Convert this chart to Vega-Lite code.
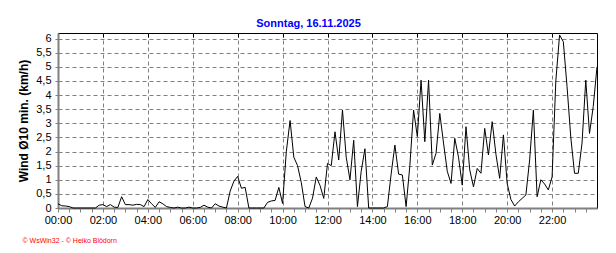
{
  "$schema": "https://vega.github.io/schema/vega-lite/v6.json",
  "width": 539,
  "height": 175,
  "autosize": "none",
  "padding": {"left": 58, "top": 33, "right": 19, "bottom": 45},
  "background": "white",
  "config": {"view": {"stroke": "black", "strokeWidth": 1}, "font": "Liberation Sans"},
  "title": {"text": "Sonntag, 16.11.2025", "color": "#0000ff", "fontSize": 11, "fontWeight": "bold", "anchor": "middle", "dx": -19, "offset": 4},
  "data": {"values": [
    {"min": 0, "v": 0.15}, {"min": 10, "v": 0.08}, {"min": 20, "v": 0.07}, {"min": 30, "v": 0.05}, {"min": 40, "v": 0}, {"min": 50, "v": 0},
    {"min": 60, "v": 0}, {"min": 70, "v": 0}, {"min": 80, "v": 0}, {"min": 90, "v": 0}, {"min": 100, "v": 0}, {"min": 110, "v": 0.1},
    {"min": 120, "v": 0.12}, {"min": 130, "v": 0.05}, {"min": 140, "v": 0.12}, {"min": 150, "v": 0.03}, {"min": 160, "v": 0.02}, {"min": 170, "v": 0.4},
    {"min": 180, "v": 0.12}, {"min": 190, "v": 0.12}, {"min": 200, "v": 0.1}, {"min": 210, "v": 0.13}, {"min": 220, "v": 0.12}, {"min": 230, "v": 0.05},
    {"min": 240, "v": 0.3}, {"min": 250, "v": 0.15}, {"min": 260, "v": 0.02}, {"min": 270, "v": 0.22}, {"min": 280, "v": 0.15}, {"min": 290, "v": 0.05},
    {"min": 300, "v": 0.02}, {"min": 310, "v": 0}, {"min": 320, "v": 0.03}, {"min": 330, "v": 0}, {"min": 340, "v": 0}, {"min": 350, "v": 0.03},
    {"min": 360, "v": 0}, {"min": 370, "v": 0}, {"min": 380, "v": 0.02}, {"min": 390, "v": 0.1}, {"min": 400, "v": 0.03}, {"min": 410, "v": 0},
    {"min": 420, "v": 0.15}, {"min": 430, "v": 0.07}, {"min": 440, "v": 0.03}, {"min": 450, "v": 0}, {"min": 460, "v": 0.6}, {"min": 470, "v": 0.95},
    {"min": 480, "v": 1.12}, {"min": 490, "v": 0.7}, {"min": 500, "v": 0.73}, {"min": 510, "v": 0}, {"min": 520, "v": 0}, {"min": 530, "v": 0},
    {"min": 540, "v": 0}, {"min": 550, "v": 0}, {"min": 560, "v": 0.2}, {"min": 570, "v": 0.25}, {"min": 580, "v": 0.27}, {"min": 590, "v": 0.73},
    {"min": 600, "v": 0.16}, {"min": 610, "v": 2.0}, {"min": 620, "v": 3.1}, {"min": 630, "v": 1.8}, {"min": 640, "v": 1.5}, {"min": 650, "v": 0.9},
    {"min": 660, "v": 0.05}, {"min": 670, "v": 0}, {"min": 680, "v": 0.35}, {"min": 690, "v": 1.1}, {"min": 700, "v": 0.8}, {"min": 710, "v": 0.34},
    {"min": 720, "v": 1.58}, {"min": 730, "v": 1.5}, {"min": 740, "v": 2.7}, {"min": 750, "v": 1.7}, {"min": 760, "v": 3.47}, {"min": 770, "v": 1.8},
    {"min": 780, "v": 1.0}, {"min": 790, "v": 2.4}, {"min": 800, "v": 0.05}, {"min": 810, "v": 1.3}, {"min": 820, "v": 2.1}, {"min": 830, "v": 0},
    {"min": 840, "v": 0}, {"min": 850, "v": 0}, {"min": 860, "v": 0}, {"min": 870, "v": 0}, {"min": 880, "v": 0.05}, {"min": 890, "v": 1.2},
    {"min": 900, "v": 2.23}, {"min": 910, "v": 1.2}, {"min": 920, "v": 1.17}, {"min": 930, "v": 0.05}, {"min": 940, "v": 1.5}, {"min": 950, "v": 3.47},
    {"min": 960, "v": 2.53}, {"min": 970, "v": 4.53}, {"min": 980, "v": 2.35}, {"min": 990, "v": 4.53}, {"min": 1000, "v": 1.52}, {"min": 1010, "v": 1.94},
    {"min": 1020, "v": 3.35}, {"min": 1030, "v": 2.3}, {"min": 1040, "v": 1.3}, {"min": 1050, "v": 0.87}, {"min": 1060, "v": 2.47}, {"min": 1070, "v": 1.8},
    {"min": 1080, "v": 0.81}, {"min": 1090, "v": 2.88}, {"min": 1100, "v": 1.35}, {"min": 1110, "v": 0.75}, {"min": 1120, "v": 1.4}, {"min": 1130, "v": 1.23},
    {"min": 1140, "v": 2.82}, {"min": 1150, "v": 1.88}, {"min": 1160, "v": 3.06}, {"min": 1170, "v": 1.9}, {"min": 1180, "v": 1.05}, {"min": 1190, "v": 2.59},
    {"min": 1200, "v": 0.87}, {"min": 1210, "v": 0.3}, {"min": 1220, "v": 0.07}, {"min": 1230, "v": 0.22}, {"min": 1240, "v": 0.34}, {"min": 1250, "v": 0.46},
    {"min": 1260, "v": 1.7}, {"min": 1270, "v": 3.47}, {"min": 1280, "v": 0.4}, {"min": 1290, "v": 1.0}, {"min": 1300, "v": 0.85}, {"min": 1310, "v": 0.64},
    {"min": 1320, "v": 1.1}, {"min": 1330, "v": 4.5}, {"min": 1340, "v": 6.13}, {"min": 1350, "v": 5.89}, {"min": 1360, "v": 4.3}, {"min": 1370, "v": 2.5},
    {"min": 1380, "v": 1.23}, {"min": 1390, "v": 1.23}, {"min": 1400, "v": 2.3}, {"min": 1410, "v": 4.53}, {"min": 1420, "v": 2.64}, {"min": 1430, "v": 3.6},
    {"min": 1440, "v": 5.0}
  ]},
  "layer": [
    {
      "mark": {"type": "line", "opacity": 0},
      "encoding": {
        "x": {
          "field": "min", "type": "quantitative",
          "scale": {"domain": [0, 1440], "nice": false, "zero": false},
          "axis": {
            "orient": "top", "title": null, "labels": false, "domain": false,
            "values": [120, 240, 360, 480, 600, 720, 840, 960, 1080, 1200, 1320],
            "tickColor": "black", "tickSize": -4,
            "grid": true, "gridColor": "#808080", "gridDash": [4, 3]
          }
        }
      }
    },
    {
      "mark": {"type": "line", "color": "black", "strokeWidth": 1},
      "encoding": {
        "x": {
          "field": "min", "type": "quantitative",
          "axis": {
            "orient": "bottom",
            "title": "© WsWin32 - © Heiko Blödorn",
            "titleColor": "#ff0000", "titleFontSize": 7, "titleFontWeight": "normal",
            "titleAnchor": "start", "titleAlign": "left", "titleBaseline": "alphabetic", "titleX": -36, "titleY": 34,
            "values": [0, 30, 60, 90, 120, 150, 180, 210, 240, 270, 300, 330, 360, 390, 420, 450, 480, 510, 540, 570, 600, 630, 660, 690, 720, 750, 780, 810, 840, 870, 900, 930, 960, 990, 1020, 1050, 1080, 1110, 1140, 1170, 1200, 1230, 1260, 1290, 1320, 1350, 1380, 1410],
            "labelExpr": "datum.value % 120 == 0 ? (datum.value < 600 ? '0' : '') + (datum.value / 60) + ':00' : ''",
            "labelFontSize": 11, "labelColor": "black", "labelPadding": 2, "labelFlush": false,
            "domainColor": "#808080", "domainWidth": 2,
            "tickColor": "#808080", "tickSize": 4,
            "grid": false
          }
        },
        "y": {
          "field": "v", "type": "quantitative",
          "scale": {"domain": [0, 6.2], "nice": false},
          "axis": {
            "title": "Wind Ø10 min. (km/h)", "titleFontSize": 12, "titleFontWeight": "bold", "titleColor": "black", "titlePadding": 5,
            "values": [0, 0.5, 1, 1.5, 2, 2.5, 3, 3.5, 4, 4.5, 5, 5.5, 6],
            "labelExpr": "replace('' + datum.value, '.', ',')",
            "labelFontSize": 11, "labelColor": "black", "labelPadding": 4,
            "domainColor": "#808080", "domainWidth": 2,
            "tickColor": "#808080", "tickSize": 3,
            "grid": true, "gridColor": "#808080", "gridDash": [4, 3]
          }
        }
      }
    }
  ],
  "resolve": {"axis": {"x": "independent"}}
}
